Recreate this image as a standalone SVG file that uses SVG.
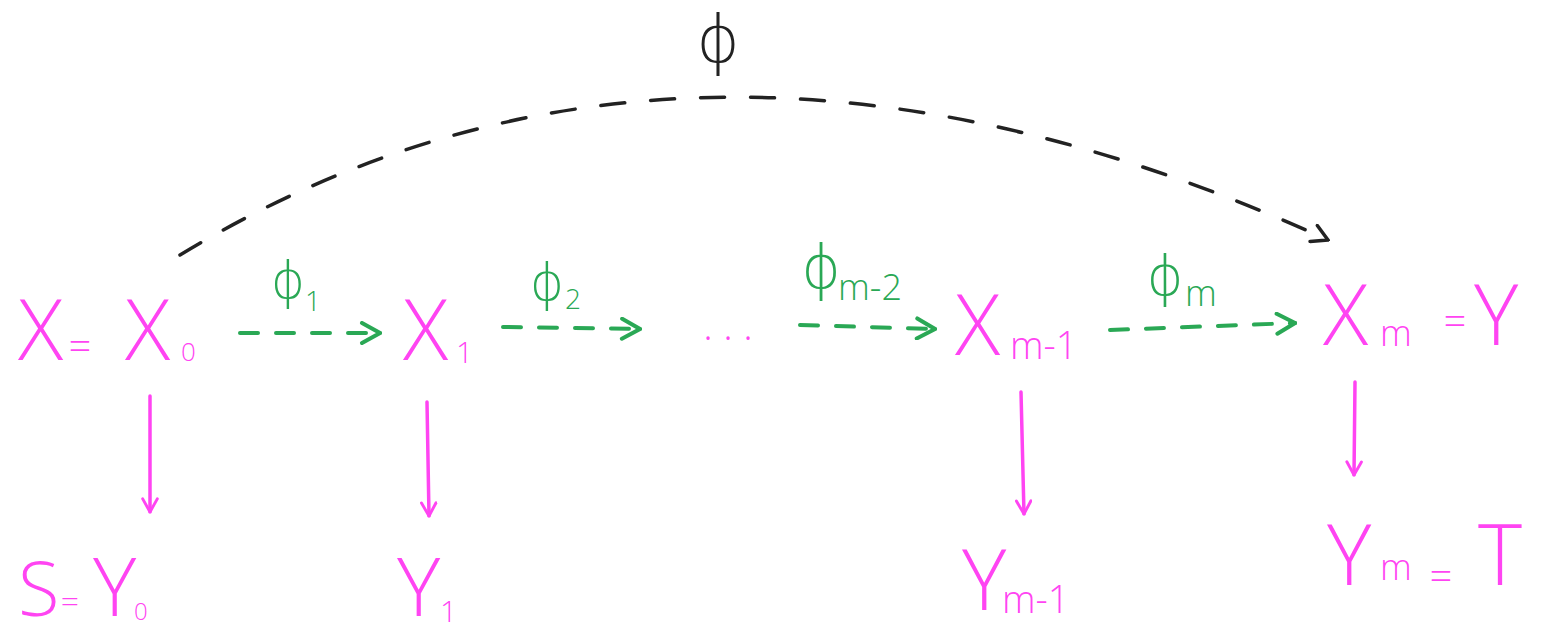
<svg xmlns="http://www.w3.org/2000/svg" width="1545" height="639" viewBox="0 0 1545 639">
<style>
text{font-family:"Open Sans","DejaVu Sans",sans-serif;font-weight:300}
.p{fill:#ff44f2}
.g{fill:#2aa855}
.k{fill:#222}
.phi{font-family:"DejaVu Sans",sans-serif;font-weight:300}
.ge{fill:none;stroke:#2aa855;stroke-width:4;stroke-dasharray:18 18;stroke-linecap:round}
.ke{fill:none;stroke:#222;stroke-width:3.5;stroke-dasharray:24 26;stroke-linecap:round}
.pe{fill:none;stroke:#ff44f2;stroke-width:3.5;stroke-linecap:round}
</style>
<defs>
<marker id="ga" viewBox="0 0 12 12" refX="11" refY="6" markerWidth="6" markerHeight="6" orient="auto" markerUnits="strokeWidth"><path d="M2 1 L11 6 L2 11" fill="none" stroke="#2aa855" stroke-width="2" stroke-linecap="round"/></marker>
<marker id="ka" viewBox="0 0 12 12" refX="11" refY="6" markerWidth="6" markerHeight="6" orient="auto" markerUnits="strokeWidth"><path d="M2 1 L11 6 L2 11" fill="none" stroke="#222" stroke-width="2" stroke-linecap="round"/></marker>
<marker id="pa" viewBox="0 0 12 12" refX="11" refY="6" markerWidth="5" markerHeight="5" orient="auto" markerUnits="strokeWidth"><path d="M2 1 L11 6 L2 11" fill="none" stroke="#ff44f2" stroke-width="2" stroke-linecap="round"/></marker>
</defs>

<g id="connectors">
<path class="ke" d="M180 255 Q687 -53 1328 240" marker-end="url(#ka)"/>
<path class="ge" d="M240 333 L380 333" marker-end="url(#ga)"/>
<path class="ge" d="M503 327 L640 329" marker-end="url(#ga)"/>
<path class="ge" d="M800 325 L935 329" marker-end="url(#ga)"/>
<path class="ge" d="M1110 330 L1295 323" marker-end="url(#ga)"/>
<path class="pe" d="M150 396 L150 512" marker-end="url(#pa)"/>
<path class="pe" d="M427 402 L429 516" marker-end="url(#pa)"/>
<path class="pe" d="M1021 392 L1024 514" marker-end="url(#pa)"/>
<path class="pe" d="M1355 382 L1354 475" marker-end="url(#pa)"/>
</g>

<g id="phi-label"><text class="k phi" x="718" y="62" font-size="66" text-anchor="middle">ϕ</text></g>
<g id="phi1-label"><text class="g phi" x="288" y="298" font-size="52" text-anchor="middle">ϕ</text><text class="g" x="305" y="311" font-size="28">1</text></g>
<g id="phi2-label"><text class="g phi" x="547" y="300" font-size="52" text-anchor="middle">ϕ</text><text class="g" x="565" y="309" font-size="28">2</text></g>
<g id="phim2-label"><text class="g phi" x="821" y="288" font-size="60" text-anchor="middle">ϕ</text><text class="g" x="838" y="300" font-size="36">m-2</text></g>
<g id="phim-label"><text class="g phi" x="1165" y="295" font-size="56" text-anchor="middle">ϕ</text><text class="g" x="1185" y="306" font-size="36">m</text></g>

<g id="node-x0">
<text class="p" x="18" y="360" font-size="84">X</text>
<text class="p" x="80" y="360" font-size="40" text-anchor="middle">=</text>
<text class="p" x="125" y="360" font-size="84">X</text>
<text class="p" x="181" y="361" font-size="26">0</text>
</g>
<g id="node-x1">
<text class="p" x="403" y="360" font-size="84">X</text>
<text class="p" x="456" y="363" font-size="30">1</text>
</g>
<g id="node-dots"><text class="p" x="728" y="340" font-size="40" text-anchor="middle">. . .</text></g>
<g id="node-xm1">
<text class="p" x="955" y="355" font-size="84">X</text>
<text class="p" x="1010" y="359" font-size="38">m-1</text>
</g>
<g id="node-xm">
<text class="p" x="1323" y="345" font-size="84">X</text>
<text class="p" x="1380" y="346" font-size="36">m</text>
<text class="p" x="1455" y="335" font-size="40" text-anchor="middle">=</text>
<text class="p" x="1474" y="345" font-size="84">Y</text>
</g>

<g id="node-y0">
<text class="p" x="18" y="616" font-size="76">S</text>
<text class="p" x="70" y="612" font-size="32" text-anchor="middle">=</text>
<text class="p" x="93" y="616" font-size="82">Y</text>
<text class="p" x="134" y="620" font-size="24">0</text>
</g>
<g id="node-y1">
<text class="p" x="397" y="616" font-size="82">Y</text>
<text class="p" x="440" y="622" font-size="30">1</text>
</g>
<g id="node-ym1">
<text class="p" x="962" y="610" font-size="84">Y</text>
<text class="p" x="1002" y="613" font-size="38">m-1</text>
</g>
<g id="node-ym">
<text class="p" x="1327" y="585" font-size="84">Y</text>
<text class="p" x="1380" y="580" font-size="36">m</text>
<text class="p" x="1441" y="590" font-size="40" text-anchor="middle">=</text>
<text class="p" x="1478" y="585" font-size="84">T</text>
</g>
</svg>
